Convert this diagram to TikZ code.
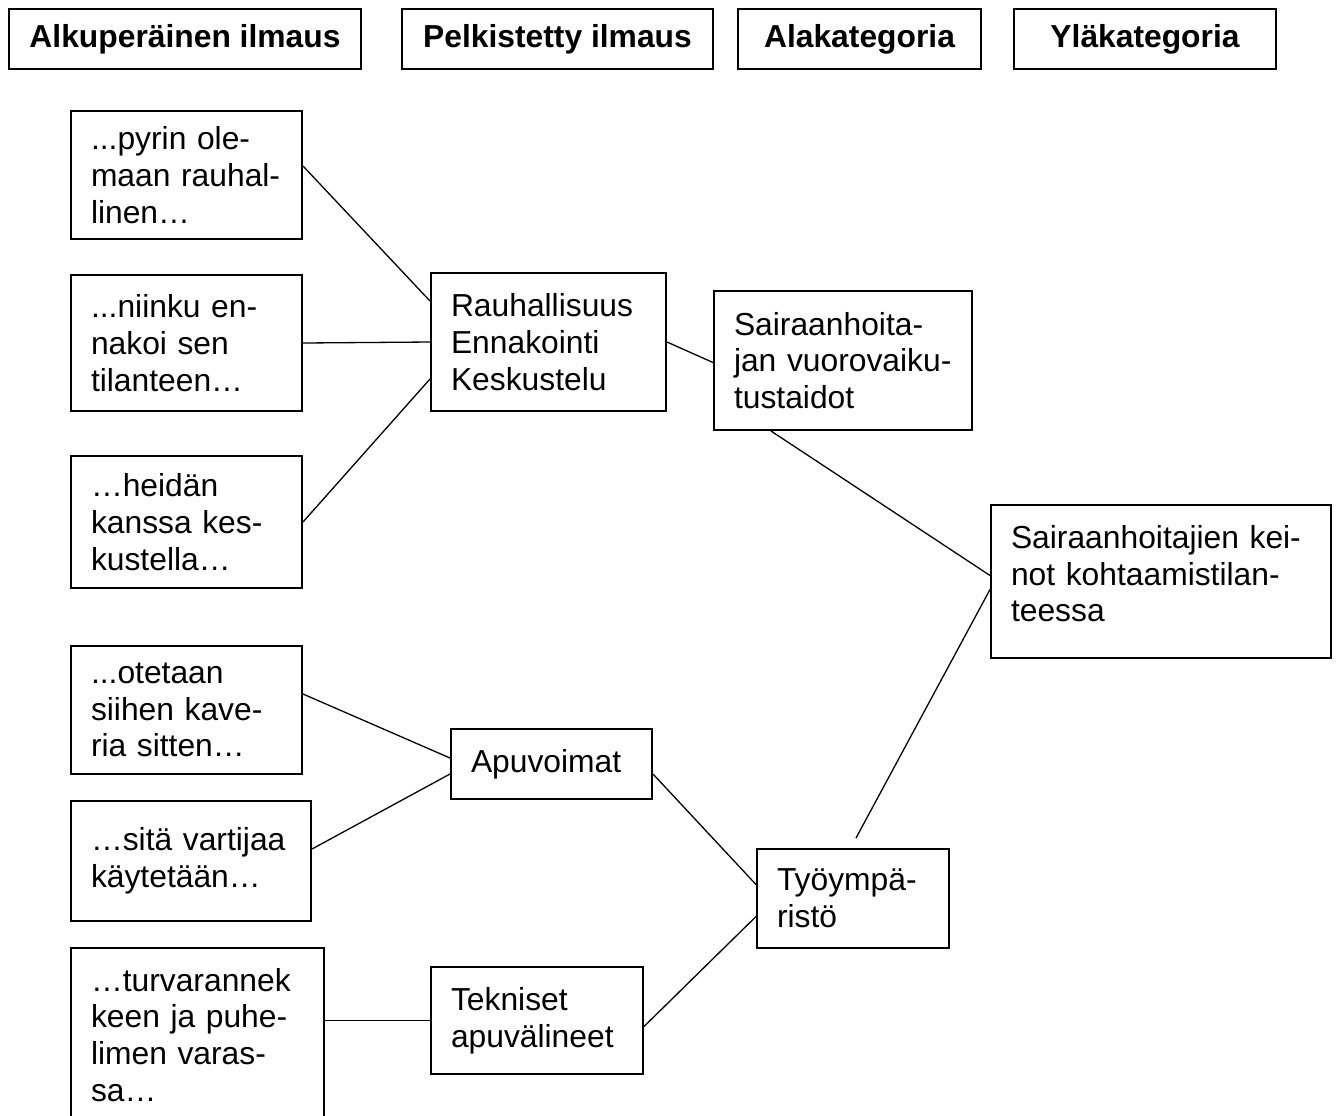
\documentclass[tikz,border=0pt]{standalone}
\usepackage{fontspec}
\setmainfont{Liberation Sans}
\usetikzlibrary{positioning}

\begin{document}
\begin{tikzpicture}[
    x=0.5pt, y=-0.5pt, % one unit = one pixel of the layout
    every node/.style={font=\fontsize{15.9}{18.4}\selectfont},
    head box/.style={draw, line width=1pt, anchor=north west, minimum height=30pt,
        align=center, font=\fontsize{15.9}{18.4}\selectfont\bfseries},
    item box/.style={draw, line width=1pt, anchor=north west, inner xsep=10pt,
        inner ysep=0pt, align=left},
    link/.style={line width=0.65pt}
]
    \useasboundingbox (0,0) rectangle (1339,1115);

    % --- 1. COLUMN HEADINGS ---
    \node[head box, minimum width=176pt]   (h1) at (8,8)    {Alkuperäinen ilmaus};
    \node[head box, minimum width=155.5pt] (h2) at (401,8)  {Pelkistetty ilmaus};
    \node[head box, minimum width=121.5pt] (h3) at (737,8)  {Alakategoria};
    \node[head box, minimum width=131pt]   (h4) at (1013,8) {Yläkategoria};

    % --- 2. ORIGINAL EXPRESSIONS ---
    \node[item box, text width=95.5pt, minimum height=64pt]  (q1) at (70,110) {...pyrin ole-\\maan rauhal-\\linen…};
    \node[item box, text width=95.5pt, minimum height=68pt]  (q2) at (70,274) {...niinku en-\\nakoi sen\\tilanteen…};
    \node[item box, text width=95.5pt, minimum height=66pt]  (q3) at (70,455) {…heidän\\kanssa kes-\\kustella…};
    \node[item box, text width=95.5pt, minimum height=64pt]  (q4) at (70,645) {...otetaan\\siihen kave-\\ria sitten…};
    \node[item box, text width=100pt,  minimum height=60pt]  (q5) at (70,800) {…sitä vartijaa\\käytetään…};
    \node[item box, text width=106.5pt, minimum height=87pt] (q6) at (70,947) {…turvarannek\\keen ja puhe-\\limen varas-\\sa…};

    % --- 3. REDUCED EXPRESSIONS ---
    \node[item box, text width=97.5pt, minimum height=69pt] (r1) at (430,272) {Rauhallisuus\\Ennakointi\\Keskustelu};
    \node[item box, text width=80.5pt, minimum height=35pt] (r2) at (450,728) {Apuvoimat};
    \node[item box, text width=86pt,   minimum height=53.5pt] (r3) at (430,966) {Tekniset\\apuvälineet};

    % --- 4. SUBCATEGORIES AND MAIN CATEGORY ---
    \node[item box, text width=109pt, minimum height=69.5pt] (s1) at (713,290) {Sairaanhoita-\\jan vuorovaiku-\\tustaidot};
    \node[item box, text width=76pt,  minimum height=49.5pt] (s2) at (756,848) {Työympä-\\ristö};
    \node[item box, text width=150pt, minimum height=76.5pt] (m1) at (990,504) {Sairaanhoitajien kei-\\not kohtaamistilan-\\teessa\\[-10.4pt]\mbox{}};

    % free end just above the box
    \coordinate (s2top) at ([xshift=1.5pt, yshift=5pt]s2.north);

    % --- 5. CONNECTORS ---
    \draw[link] ([yshift=4.5pt]q1.east) -- ([yshift=20.5pt]r1.west);
    \draw[link] (q2.east) -- (r1.west);
    \draw[link] (q3.east) -- ([yshift=-18.5pt]r1.west);
    \draw[link] (r1.east) -- ([yshift=-1pt]s1.west);
    \draw[link] ([xshift=-36pt]s1.south) -- ([yshift=3pt]m1.west);

    \draw[link] ([yshift=8pt]q4.east) -- ([yshift=3pt]r2.west);
    \draw[link] ([yshift=6pt]q5.east) -- ([yshift=-5pt]r2.west);
    \draw[link] ([yshift=-5pt]r2.east) -- ([yshift=7pt]s2.west);
    \draw[link] (q6.east |- r3.west) -- (r3.west);
    \draw[link] ([yshift=-3pt]r3.east) -- ([yshift=-9pt]s2.west);
    \draw[link] (s2top) -- ([yshift=-4pt]m1.west);

\end{tikzpicture}
\end{document}
